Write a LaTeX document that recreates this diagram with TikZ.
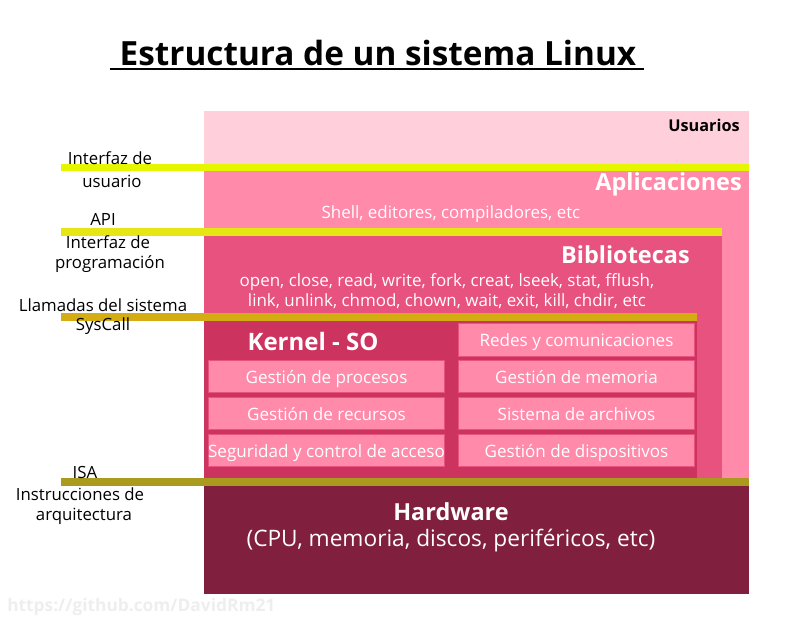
\documentclass[tikz,border=0pt]{standalone}
\usepackage{fontspec}
\setmainfont{Open Sans}
\definecolor{cusu}{RGB}{255,208,220}
\definecolor{capl}{RGB}{255,138,170}
\definecolor{cbib}{RGB}{232,82,127}
\definecolor{cker}{RGB}{204,51,94}
\definecolor{chw}{RGB}{128,32,62}
\definecolor{cla}{RGB}{230,245,0}
\definecolor{clb}{RGB}{230,230,20}
\definecolor{clc}{RGB}{212,172,20}
\definecolor{cld}{RGB}{170,155,30}
\definecolor{cwm}{RGB}{238,238,238}
\begin{document}
\begin{tikzpicture}[x=0.75pt,y=-0.75pt,
  lbl/.style={inner sep=0pt,font=\fontsize{12.6}{14}\selectfont,align=center,text=black},
  wt/.style={inner sep=0pt,font=\fontsize{12.7}{15.5}\selectfont,align=center,text=white},
  big/.style={inner sep=0pt,font=\bfseries\fontsize{17.6}{20}\selectfont,text=white},
  kbox/.style={fill=capl,draw=cbib,line width=0.6pt,text=white,inner sep=0pt,
    minimum height=24.5pt,text height=2.2ex,text depth=0.3ex,font=\fontsize{12.8}{14}\selectfont}]
\useasboundingbox (0,0) rectangle (800,618);
% title
\node[inner sep=0pt,font=\bfseries\fontsize{25}{28}\selectfont] (title) at (378,53) {Estructura de un sistema Linux};
\draw[line width=0.9pt] (110,69) -- (644,69);
% regions
\fill[cusu] (204,111) rectangle (749,167);
\fill[capl] (204,167) rectangle (749,482);
\fill[cbib] (204,232) rectangle (722,482);
\fill[cker] (204,317) rectangle (697,482);
\fill[chw] (204,482) rectangle (749,594);
% interface lines
\fill[cla] (61,164) rectangle (749,171);
\fill[clb] (61,228) rectangle (722,236);
\fill[clc] (61,313) rectangle (697,321);
\fill[cld] (61,478) rectangle (749,486);
% layer titles
\node[inner sep=0pt,font=\bfseries\fontsize{12.2}{14}\selectfont,anchor=east] (usu) at (740,125) {Usuarios};
\node[big,anchor=east] (apl) at (742,184) {Aplicaciones};
\node[wt] (apltxt) at (451,214) {Shell, editores, compiladores, etc};
\node[big,anchor=east] (bib) at (690,255) {Bibliotecas};
\node[wt] (bibtxt) at (447,291) {open, close, read, write, fork, creat, lseek, stat, fflush,\\link, unlink, chmod, chown, wait, exit, kill, chdir, etc};
\node[big,font=\bfseries\fontsize{18}{20}\selectfont] (ker) at (313,341) {Kernel - SO};
\node[big,font=\bfseries\fontsize{17.6}{20}\selectfont] (hw) at (451,512) {Hardware};
\node[wt,font=\fontsize{17}{20}\selectfont] (hwtxt) at (451,541) {(CPU, memoria, discos, periféricos, etc)};
% kernel boxes
\node[kbox,minimum width=177pt] (k1) at (576.5,340) {Redes y comunicaciones};
\node[kbox,minimum width=177pt] (k2) at (326.5,376.5) {Gestión de procesos};
\node[kbox,minimum width=177pt] (k3) at (576.5,376.5) {Gestión de memoria};
\node[kbox,minimum width=177pt] (k4) at (326.5,413.5) {Gestión de recursos};
\node[kbox,minimum width=177pt] (k5) at (576.5,413.5) {Sistema de archivos};
\node[kbox,minimum width=177pt] (k6) at (326.5,450.5) {Seguridad y control de acceso};
\node[kbox,minimum width=177pt] (k7) at (576.5,450.5) {Gestión de dispositivos};
% left labels
\node[lbl] (l1a) at (110,158) {Interfaz de};
\node[lbl] (l1b) at (112,181) {usuario};
\node[lbl] (l2a) at (103,219) {API};
\node[lbl] (l2b) at (108,242) {Interfaz de};
\node[lbl] (l2c) at (110,264) {programación};
\node[lbl] (l3a) at (103,305) {Llamadas del sistema};
\node[lbl] (l3b) at (103,326) {SysCall};
\node[lbl] (l4a) at (85,472) {ISA};
\node[lbl] (l4b) at (80,494) {Instrucciones de};
\node[lbl] (l4c) at (84,516) {arquitectura};
% watermark
\node[inner sep=0pt,anchor=west,text=cwm,font=\bfseries\fontsize{13}{15}\selectfont] (wm) at (7,607) {https://github.com/DavidRm21};
\end{tikzpicture}
\end{document}
